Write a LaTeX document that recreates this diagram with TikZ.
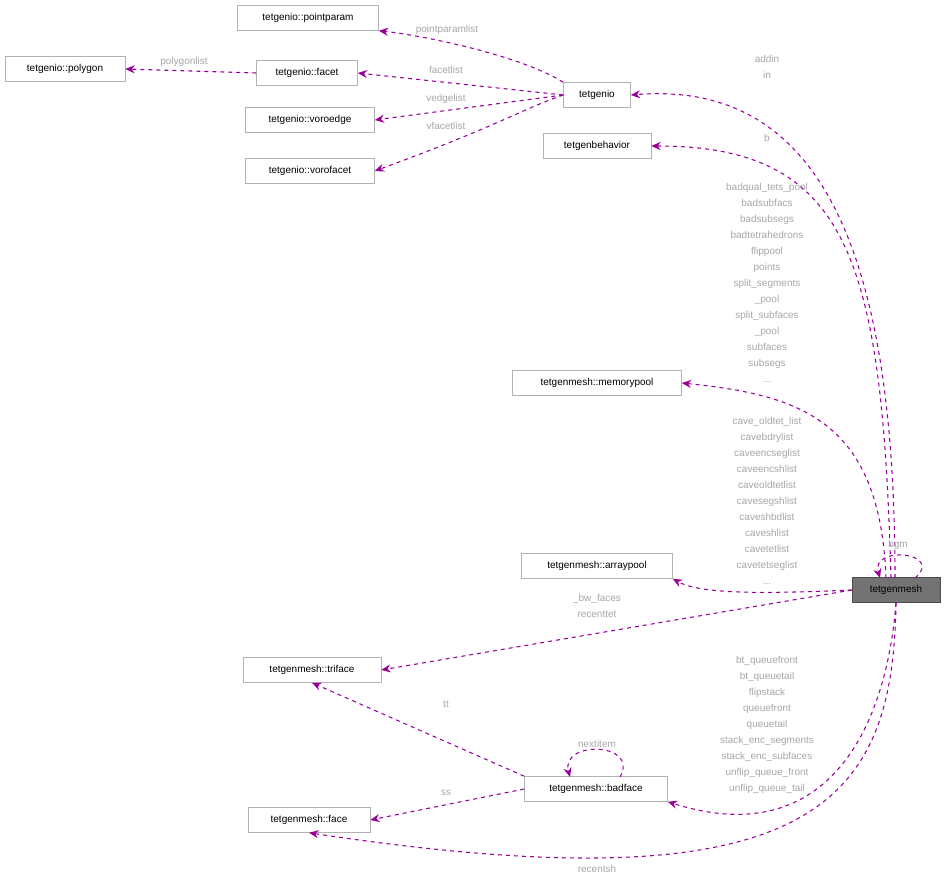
\documentclass[tikz,border=0pt]{standalone}
\usepackage{fontspec}
\setmainfont{Liberation Sans}
\usetikzlibrary{arrows.meta}
\begin{document}
\begin{tikzpicture}[x=0.75pt,y=-0.75pt,
 box/.style={draw=black!30,fill=white,inner sep=0pt,minimum height=18.75pt,font=\fontsize{7.5}{9}\selectfont},
 e/.style={draw=violet!80!magenta,dashed,line width=0.8pt,-{Stealth[length=7pt,width=6pt]}},
 lab/.style={text=black!35,font=\fontsize{7.5}{12}\selectfont,align=center,inner sep=0pt}]
\useasboundingbox (0,0) rectangle (947,892);
\node[box,fill=black!55,draw=black!70,minimum width=66pt] (mesh) at (896,590) {tetgenmesh};
\node[box,minimum width=105.75pt] (pp) at (308,18) {tetgenio::pointparam};
\node[box,minimum width=90pt] (poly) at (65,69) {tetgenio::polygon};
\node[box,minimum width=75.75pt] (facet) at (307,73) {tetgenio::facet};
\node[box,minimum width=50.25pt] (io) at (597,95) {tetgenio};
\node[box,minimum width=96.75pt] (ve) at (310,120) {tetgenio::voroedge};
\node[box,minimum width=96.75pt] (vf) at (310,171) {tetgenio::vorofacet};
\node[box,minimum width=81pt] (beh) at (597,146) {tetgenbehavior};
\node[box,minimum width=126.75pt] (mp) at (597,383) {tetgenmesh::memorypool};
\node[box,minimum width=113.25pt] (ap) at (597,566) {tetgenmesh::arraypool};
\node[box,minimum width=103.5pt] (tri) at (312,670) {tetgenmesh::triface};
\node[box,minimum width=107.25pt] (bf) at (596,789) {tetgenmesh::badface};
\node[box,minimum width=91.5pt] (face) at (309,820) {tetgenmesh::face};
\coordinate (m1) at (895,578); \coordinate (m2) at (891,578); \coordinate (m3) at (886,578);
\draw[e] (m1) .. controls (895,250) and (820,80) .. (io.east);
\draw[e] (m2) .. controls (882,260) and (850,146) .. (beh.east);
\draw[e] (m3) .. controls (880,420) and (800,395) .. (mp.east);
\draw[e] (mesh.west) .. controls (760,594) and (700,594) .. (ap.south east);
\draw[e] (mesh.west) -- (tri.east);
\draw[e] (mesh.south) .. controls (885,740) and (820,850) .. (bf.south east);
\draw[e] (mesh.south) .. controls (893,800) and (820,910) .. (face.south);
\coordinate (ms1) at (915,578); \coordinate (ms2) at (880,578);
\draw[e] (ms1) .. controls (945,552) and (870,545) .. (ms2);
\draw[e] (io.north west) .. controls (520,55) and (420,35) .. (pp.south east);
\draw[e] (io.west) -- (facet.east);
\draw[e] (io.west) -- (ve.east);
\draw[e] (io.west) .. controls (520,110) and (500,125) .. (vf.east);
\draw[e] (facet.west) -- (poly.east);
\draw[e] (bf.north west) -- (tri.south);
\draw[e] (bf.west) -- (face.east);
\coordinate (b1) at (620,777); \coordinate (b2) at (570,777);
\draw[e] (b1) .. controls (640,742) and (560,740) .. (b2);
\node[lab] at (767,67) {addin\\in};
\node[lab] at (767,138) {b};
\node[lab] at (767,283) {badqual\_tets\_pool\\badsubfacs\\badsubsegs\\badtetrahedrons\\flippool\\points\\split\_segments\\\_pool\\split\_subfaces\\\_pool\\subfaces\\subsegs\\...};
\node[lab] at (767,501) {cave\_oldtet\_list\\cavebdrylist\\caveencseglist\\caveencshlist\\caveoldtetlist\\cavesegshlist\\caveshbdlist\\caveshlist\\cavetetlist\\cavetetseglist\\...};
\node[lab] at (597,606) {\_bw\_faces\\recenttet};
\node[lab] at (767,725) {bt\_queuefront\\bt\_queuetail\\flipstack\\queuefront\\queuetail\\stack\_enc\_segments\\stack\_enc\_subfaces\\unflip\_queue\_front\\unflip\_queue\_tail};
\node[lab] at (597,869) {recentsh};
\node[lab] at (898,545) {bgm};
\node[lab] at (447,30) {pointparamlist};
\node[lab] at (446,70) {facetlist};
\node[lab] at (446,99) {vedgelist};
\node[lab] at (446,126) {vfacetlist};
\node[lab] at (184,62) {polygonlist};
\node[lab] at (446,704) {tt};
\node[lab] at (446,793) {ss};
\node[lab] at (597,744) {nextitem};
\end{tikzpicture}
\end{document}
